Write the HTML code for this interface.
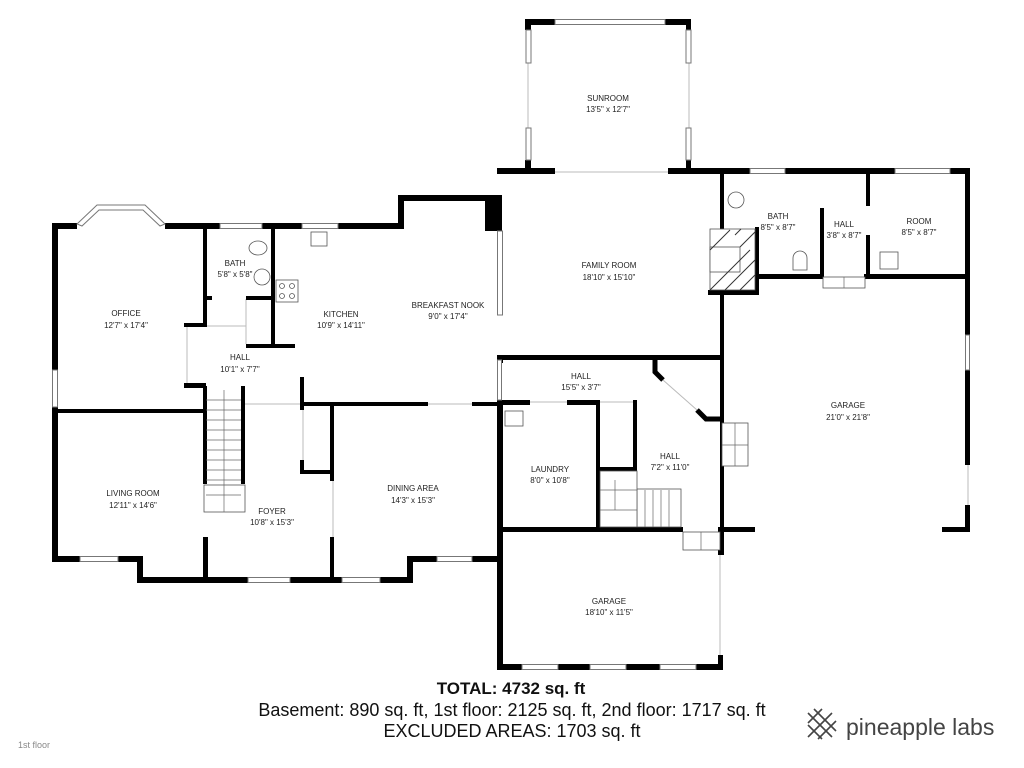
<!DOCTYPE html>
<html><head><meta charset="utf-8"><style>
html,body{margin:0;padding:0;background:#fff;}
svg{display:block;}
text{font-family:"Liberation Sans",sans-serif;}
.l{font-size:8px;fill:#222;text-anchor:middle;}
</style></head><body>
<svg width="1024" height="768" viewBox="0 0 1024 768" xmlns="http://www.w3.org/2000/svg">
<rect width="1024" height="768" fill="#fff"/>
<g fill="none" stroke="#bbb" stroke-width="1">
<line x1="555" y1="172" x2="668" y2="172"/>
<line x1="206" y1="326" x2="246" y2="326"/>
<line x1="246" y1="299" x2="246" y2="344"/>
<line x1="187" y1="327" x2="187" y2="385"/>
<line x1="245" y1="404" x2="300" y2="404"/>
<line x1="428" y1="404" x2="472" y2="404"/>
<line x1="333" y1="477" x2="333" y2="578"/>
<line x1="530" y1="402" x2="567" y2="402"/>
<line x1="600" y1="402" x2="633" y2="402"/>
<line x1="663" y1="380" x2="697" y2="410"/>
<line x1="720" y1="555" x2="720" y2="655"/>
<line x1="968" y1="465" x2="968" y2="505"/>
<line x1="825" y1="172" x2="862" y2="172"/>
<line x1="528" y1="63" x2="528" y2="128"/>
<line x1="689" y1="63" x2="689" y2="128"/>
<line x1="303" y1="410" x2="303" y2="473"/>
</g>
<g fill="#000">
<rect x="52" y="223" width="6" height="147"/>
<rect x="52" y="407" width="6" height="155"/>
<rect x="52" y="223" width="25" height="6"/>
<rect x="165" y="223" width="233" height="6"/>
<rect x="398" y="195" width="6" height="34"/>
<rect x="398" y="195" width="104" height="6"/>
<rect x="485" y="195" width="17" height="36"/>
<rect x="52" y="556" width="85" height="6"/>
<rect x="137" y="556" width="6" height="27"/>
<rect x="137" y="577" width="68" height="6"/>
<rect x="203" y="537" width="5" height="46"/>
<rect x="205" y="577" width="43" height="6"/>
<rect x="290" y="577" width="42" height="6"/>
<rect x="330" y="537" width="4" height="46"/>
<rect x="332" y="577" width="78" height="6"/>
<rect x="407" y="556" width="6" height="27"/>
<rect x="410" y="556" width="92" height="6"/>
<rect x="497" y="403" width="6" height="159"/>
<rect x="497" y="355" width="6" height="8"/>
<rect x="52" y="409" width="152" height="4"/>
<rect x="203" y="225" width="4" height="102"/>
<rect x="184" y="323" width="22" height="4"/>
<rect x="184" y="383" width="22" height="5"/>
<rect x="203" y="386" width="4" height="98"/>
<rect x="241" y="386" width="4" height="98"/>
<rect x="206" y="296" width="6" height="4"/>
<rect x="246" y="296" width="28" height="4"/>
<rect x="271" y="225" width="4" height="123"/>
<rect x="246" y="344" width="49" height="4"/>
<rect x="300" y="377" width="4" height="33"/>
<rect x="300" y="402" width="128" height="4"/>
<rect x="472" y="402" width="31" height="4"/>
<rect x="300" y="402" width="4" height="8"/>
<rect x="300" y="470" width="33" height="4"/>
<rect x="330" y="402" width="4" height="79"/>
<rect x="300" y="460" width="4" height="14"/>
<rect x="497" y="168" width="58" height="6"/>
<rect x="668" y="168" width="302" height="6"/>
<rect x="720" y="168" width="4" height="62"/>
<rect x="720" y="290" width="4" height="265"/>
<rect x="708" y="290" width="50" height="5"/>
<rect x="755" y="227" width="4" height="68"/>
<rect x="755" y="274" width="69" height="5"/>
<rect x="820" y="208" width="4" height="70"/>
<rect x="866" y="168" width="4" height="38"/>
<rect x="866" y="235" width="4" height="43"/>
<rect x="864" y="274" width="106" height="5"/>
<rect x="965" y="168" width="5" height="167"/>
<rect x="965" y="370" width="5" height="95"/>
<rect x="965" y="505" width="5" height="27"/>
<rect x="942" y="527" width="28" height="5"/>
<rect x="720" y="527" width="35" height="5"/>
<rect x="497" y="355" width="225" height="5"/>
<rect x="497" y="400" width="33" height="5"/>
<rect x="567" y="400" width="33" height="5"/>
<rect x="596" y="400" width="4" height="132"/>
<rect x="633" y="400" width="4" height="92"/>
<rect x="600" y="467" width="35" height="4"/>
<rect x="497" y="527" width="186" height="5"/>
<rect x="497" y="527" width="6" height="143"/>
<rect x="497" y="664" width="226" height="6"/>
<rect x="718" y="527" width="5" height="28"/>
<rect x="718" y="655" width="5" height="15"/>
<rect x="525" y="19" width="30" height="6"/>
<rect x="665" y="19" width="26" height="6"/>
<rect x="525" y="19" width="6" height="11"/>
<rect x="686" y="19" width="5" height="11"/>
<rect x="525" y="160" width="6" height="12"/>
<rect x="686" y="160" width="5" height="12"/>
</g>
<g stroke="#000" stroke-width="5" fill="none">
<polyline points="655,358 655,372 663,380"/>
<polyline points="697,410 706,419 722,419"/>
</g>
<g fill="#fff" stroke="#777" stroke-width="1">
<rect x="220" y="223.5" width="42" height="5"/>
<rect x="302" y="223.5" width="36" height="5"/>
<rect x="52.5" y="370" width="5" height="37"/>
<rect x="80" y="556.5" width="38" height="5"/>
<rect x="342" y="577.5" width="38" height="5"/>
<rect x="437" y="556.5" width="35" height="5"/>
<rect x="248" y="577.5" width="42" height="5"/>
<rect x="497.5" y="231" width="5" height="84"/>
<rect x="750" y="168.5" width="35" height="5"/>
<rect x="895" y="168.5" width="55" height="5"/>
<rect x="965.5" y="335" width="4" height="35"/>
<rect x="522" y="664.5" width="36" height="5"/>
<rect x="590" y="664.5" width="36" height="5"/>
<rect x="660" y="664.5" width="36" height="5"/>
<rect x="555" y="19.5" width="110" height="5"/>
<rect x="526" y="30" width="5" height="33"/>
<rect x="526" y="128" width="5" height="32"/>
<rect x="686" y="30" width="5" height="33"/>
<rect x="686" y="128" width="5" height="32"/>
<rect x="497.5" y="360" width="4" height="40"/>
<polygon points="77,224 97,205 145,205 165,224 160,226 143,210 99,210 82,226"/>
</g>
<g fill="#fff" stroke="#555" stroke-width="0.8">
<rect x="710" y="229" width="45" height="61"/>
<rect x="710" y="247" width="30" height="25"/>
<ellipse cx="736" cy="200" rx="8" ry="8"/>
<path d="M793,270 v-12 a7,7 0 0 1 14,0 v12 z"/>
<rect x="880" y="252" width="18" height="17"/>
<rect x="311" y="232" width="16" height="14"/>
<rect x="276" y="280" width="22" height="22"/>
<circle cx="282" cy="286" r="2.5"/><circle cx="292" cy="286" r="2.5"/>
<circle cx="282" cy="296" r="2.5"/><circle cx="292" cy="296" r="2.5"/>
<ellipse cx="258" cy="248" rx="9" ry="7"/>
<circle cx="262" cy="277" r="8"/>
<rect x="505" y="411" width="18" height="15"/>
<rect x="204" y="485" width="41" height="27"/>
<rect x="722" y="423" width="26" height="43"/>
<rect x="683" y="532" width="37" height="18"/>
<rect x="823" y="277" width="42" height="11"/>
<rect x="637" y="489" width="44" height="38"/>
<rect x="600" y="471" width="37" height="56"/>
</g>
<g stroke="#333" stroke-width="1">
<line x1="710" y1="250" x2="730" y2="230"/><line x1="710" y1="290" x2="750" y2="250"/>
<line x1="725" y1="290" x2="755" y2="260"/><line x1="740" y1="290" x2="755" y2="275"/>
<line x1="735" y1="235" x2="741" y2="229"/><line x1="740" y1="247" x2="755" y2="232"/>
</g>
<g stroke="#666" stroke-width="0.7">
<line x1="224" y1="390" x2="224" y2="512"/>
<line x1="206" y1="400" x2="241" y2="400"/><line x1="206" y1="410" x2="241" y2="410"/>
<line x1="206" y1="420" x2="241" y2="420"/><line x1="206" y1="430" x2="241" y2="430"/>
<line x1="206" y1="440" x2="241" y2="440"/><line x1="206" y1="450" x2="241" y2="450"/>
<line x1="206" y1="460" x2="241" y2="460"/><line x1="206" y1="470" x2="241" y2="470"/>
<line x1="206" y1="480" x2="241" y2="480"/><line x1="206" y1="495" x2="241" y2="495"/>
<line x1="615" y1="480" x2="615" y2="510"/><line x1="600" y1="490" x2="637" y2="490"/>
<line x1="645" y1="490" x2="645" y2="527"/><line x1="653" y1="490" x2="653" y2="527"/>
<line x1="661" y1="490" x2="661" y2="527"/><line x1="669" y1="490" x2="669" y2="527"/>
<line x1="600" y1="510" x2="637" y2="510"/>
<line x1="735" y1="423" x2="735" y2="466"/><line x1="722" y1="445" x2="748" y2="445"/>
<line x1="701" y1="532" x2="701" y2="550"/><line x1="844" y1="277" x2="844" y2="288"/>
</g>
<text class="l" x="608" y="101">SUNROOM</text><text class="l" x="608" y="112">13'5" x 12'7"</text>
<text class="l" x="609" y="268">FAMILY ROOM</text><text class="l" x="609" y="280">18'10" x 15'10"</text>
<text class="l" x="778" y="219">BATH</text><text class="l" x="778" y="230">8'5" x 8'7"</text>
<text class="l" x="844" y="227">HALL</text><text class="l" x="844" y="238">3'8" x 8'7"</text>
<text class="l" x="919" y="224">ROOM</text><text class="l" x="919" y="235">8'5" x 8'7"</text>
<text class="l" x="848" y="408">GARAGE</text><text class="l" x="848" y="420">21'0" x 21'8"</text>
<text class="l" x="581" y="379">HALL</text><text class="l" x="581" y="390">15'5" x 3'7"</text>
<text class="l" x="670" y="459">HALL</text><text class="l" x="670" y="470">7'2" x 11'0"</text>
<text class="l" x="550" y="472">LAUNDRY</text><text class="l" x="550" y="483">8'0" x 10'8"</text>
<text class="l" x="609" y="604">GARAGE</text><text class="l" x="609" y="615">18'10" x 11'5"</text>
<text class="l" x="126" y="316">OFFICE</text><text class="l" x="126" y="328">12'7" x 17'4"</text>
<text class="l" x="235" y="266">BATH</text><text class="l" x="235" y="277">5'8" x 5'8"</text>
<text class="l" x="341" y="317">KITCHEN</text><text class="l" x="341" y="328">10'9" x 14'11"</text>
<text class="l" x="448" y="308">BREAKFAST NOOK</text><text class="l" x="448" y="319">9'0" x 17'4"</text>
<text class="l" x="240" y="360">HALL</text><text class="l" x="240" y="372">10'1" x 7'7"</text>
<text class="l" x="133" y="496">LIVING ROOM</text><text class="l" x="133" y="508">12'11" x 14'6"</text>
<text class="l" x="272" y="514">FOYER</text><text class="l" x="272" y="525">10'8" x 15'3"</text>
<text class="l" x="413" y="491">DINING AREA</text><text class="l" x="413" y="503">14'3" x 15'3"</text>
<text x="511" y="694" font-size="17" font-weight="bold" text-anchor="middle" fill="#111">TOTAL: 4732 sq. ft</text>
<text x="512" y="716" font-size="18" text-anchor="middle" fill="#111">Basement: 890 sq. ft, 1st floor: 2125 sq. ft, 2nd floor: 1717 sq. ft</text>
<text x="512" y="737" font-size="18" text-anchor="middle" fill="#111">EXCLUDED AREAS: 1703 sq. ft</text>
<text x="18" y="748" font-size="9" fill="#888">1st floor</text>
<g stroke="#444" stroke-width="1.6">
<line x1="808" y1="713" x2="832" y2="737"/><line x1="814" y1="709" x2="836" y2="731"/>
<line x1="808" y1="725" x2="822" y2="739"/><line x1="832" y1="713" x2="808" y2="737"/>
<line x1="836" y1="721" x2="818" y2="739"/><line x1="822" y1="709" x2="808" y2="723"/>
</g>
<text x="846" y="735" font-size="23" fill="#444">pineapple labs</text>
</svg>
</body></html>
